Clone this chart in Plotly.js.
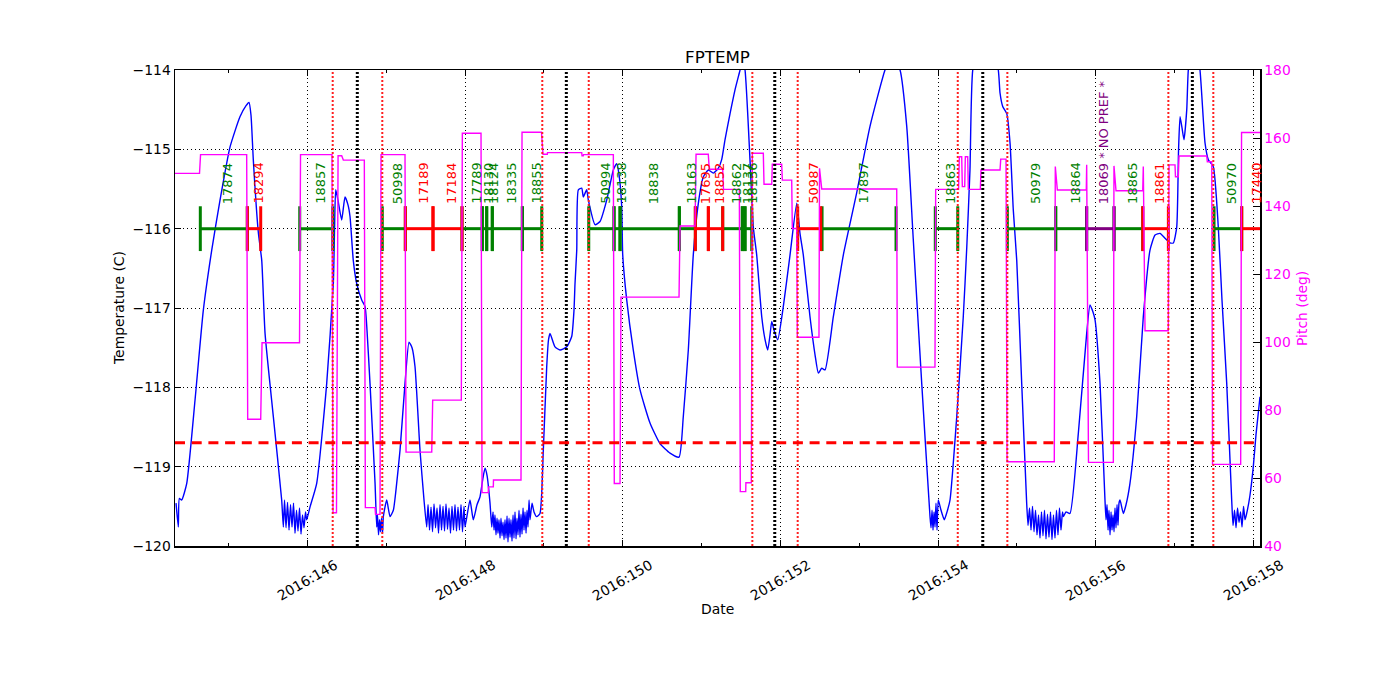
<!DOCTYPE html>
<html><head><meta charset="utf-8">
<script src="https://cdn.plot.ly/plotly-3.0.1.min.js"></script>
<style>html,body{margin:0;padding:0;background:#fff}#chart{width:1400px;height:700px}</style>
</head><body><div id="chart"></div>
<script>
// ---- data (day-of-year 2016, value) ----
const fptempReadings = [
[144.335,-119.46],[144.364,-119.76],[144.377,-119.40],[144.407,-119.42],[144.471,-119.21],[144.576,-118.16],[144.681,-117.03],[144.788,-116.27],[144.893,-115.64],[145.020,-114.97],[145.146,-114.59],[145.223,-114.45],[145.261,-114.41],[145.286,-114.57],[145.315,-115.13],[145.379,-116.05],[145.422,-116.40],[145.464,-117.32],[145.569,-118.37],[145.675,-119.42],[145.696,-119.76],
[145.711,-119.42],[145.730,-119.77],[145.749,-119.45],[145.768,-119.80],[145.787,-119.48],[145.806,-119.76],[145.825,-119.46],[145.844,-119.84],[145.863,-119.55],[145.882,-119.81],[145.901,-119.52],[145.920,-119.85],[145.939,-119.61],[145.958,-119.77],[145.977,-119.57],[145.992,-119.67],
[146.034,-119.51],[146.119,-119.21],[146.246,-117.95],[146.330,-116.69],[146.345,-116.02],[146.360,-115.51],[146.389,-115.64],[146.436,-115.89],[146.478,-115.60],[146.516,-115.70],[146.542,-115.85],[146.583,-116.40],[146.626,-116.69],[146.690,-116.90],[146.732,-116.98],[146.757,-117.28],[146.795,-117.95],[146.859,-119.21],[146.880,-119.76],
[146.890,-119.61],[146.903,-119.86],[146.916,-119.67],[146.928,-119.82],[146.941,-119.65],[146.954,-119.84],[146.964,-119.63],
[147.007,-119.42],[147.049,-119.63],[147.091,-119.55],[147.125,-119.29],[147.176,-118.79],[147.239,-117.95],[147.290,-117.43],[147.328,-117.50],[147.366,-117.74],[147.429,-118.79],[147.480,-119.42],[147.514,-119.76],
[147.531,-119.48],[147.550,-119.80],[147.569,-119.51],[147.588,-119.82],[147.607,-119.47],[147.626,-119.77],[147.645,-119.52],[147.664,-119.84],[147.683,-119.48],[147.702,-119.80],[147.721,-119.50],[147.740,-119.81],[147.759,-119.47],[147.778,-119.79],[147.797,-119.52],[147.816,-119.84],[147.835,-119.50],[147.854,-119.80],[147.873,-119.48],[147.892,-119.81],[147.911,-119.51],[147.930,-119.80],[147.949,-119.48],[147.968,-119.82],[147.987,-119.50],[148.000,-119.76],
[148.063,-119.42],[148.105,-119.67],[148.152,-119.48],[148.190,-119.38],[148.228,-119.14],[148.254,-119.02],[148.279,-119.11],[148.317,-119.46],[148.339,-119.76],
[148.355,-119.57],[148.368,-119.80],[148.380,-119.61],[148.393,-119.86],[148.406,-119.65],[148.418,-119.84],[148.431,-119.67],[148.444,-119.90],[148.456,-119.65],[148.469,-119.87],[148.482,-119.70],[148.495,-119.92],[148.507,-119.67],[148.520,-119.90],[148.533,-119.62],[148.545,-119.95],[148.558,-119.65],[148.571,-119.89],[148.583,-119.67],[148.596,-119.94],[148.609,-119.61],[148.621,-119.90],[148.634,-119.57],[148.647,-119.91],[148.659,-119.65],[148.672,-119.86],[148.685,-119.55],[148.697,-119.89],[148.710,-119.60],[148.723,-119.85],[148.736,-119.52],[148.748,-119.80],[148.761,-119.57],[148.774,-119.84],[148.786,-119.55],[148.799,-119.76],[148.812,-119.42],[148.824,-119.67],
[148.850,-119.46],[148.875,-119.57],[148.909,-119.63],[148.951,-119.59],[148.993,-118.79],[149.036,-117.74],[149.059,-117.40],[149.078,-117.32],[149.141,-117.49],[149.205,-117.53],[149.290,-117.49],[149.353,-117.36],[149.382,-117.03],[149.395,-116.69],[149.417,-116.27],[149.437,-115.51],[149.480,-115.49],[149.500,-115.60],[149.543,-115.51],[149.564,-115.64],[149.649,-115.95],[149.712,-115.91],[149.797,-115.64],[149.881,-115.26],[149.924,-115.18],[149.953,-115.32],[149.987,-115.72],[150.000,-116.33],[150.051,-116.90],[150.134,-117.53],[150.219,-118.03],[150.346,-118.45],[150.473,-118.71],[150.600,-118.83],[150.714,-118.88],[150.768,-118.37],[150.832,-117.53],[150.895,-116.33],[150.959,-115.68],[151.022,-115.35],[151.085,-115.26],[151.149,-115.30],[151.212,-115.24],[151.255,-115.13],[151.297,-114.88],[151.361,-114.55],[151.424,-114.25],[151.488,-114.00],[151.519,-113.87],[151.551,-114.00],[151.614,-115.13],[151.656,-115.98],[151.699,-116.33],[151.763,-117.11],[151.805,-117.40],[151.839,-117.53],[151.868,-117.34],[151.890,-117.17],[151.919,-117.28],[151.966,-117.40],[152.037,-116.98],[152.122,-116.33],[152.207,-115.68],[152.248,-116.06],[152.290,-116.33],[152.375,-117.11],[152.439,-117.59],[152.481,-117.82],[152.524,-117.76],[152.566,-117.78],[152.671,-117.11],[152.798,-116.33],[152.967,-115.55],[153.136,-114.71],[153.326,-114.00],[153.415,-113.80],[153.517,-114.00],[153.602,-114.71],[153.685,-116.14],[153.792,-117.95],[153.897,-119.63],
[153.910,-119.77],[153.923,-119.55],[153.935,-119.80],[153.948,-119.57],[153.961,-119.76],[153.973,-119.46],[153.986,-119.80],
[154.002,-119.42],[154.037,-119.55],[154.078,-119.67],[154.113,-119.57],[154.151,-119.42],[154.236,-118.37],[154.319,-117.11],[154.363,-116.24],[154.404,-115.26],[154.439,-114.00],[154.595,-113.30],[154.763,-114.00],[154.785,-114.29],[154.819,-114.46],[154.870,-114.55],[154.912,-114.92],[154.953,-115.76],[154.997,-116.40],[155.060,-117.95],[155.123,-119.46],
[155.140,-119.74],[155.159,-119.52],[155.178,-119.80],[155.197,-119.50],[155.216,-119.82],[155.235,-119.55],[155.254,-119.86],[155.273,-119.61],[155.292,-119.90],[155.311,-119.57],[155.330,-119.87],[155.349,-119.55],[155.368,-119.91],[155.387,-119.60],[155.406,-119.89],[155.425,-119.57],[155.444,-119.92],[155.463,-119.61],[155.482,-119.90],[155.501,-119.55],[155.520,-119.86],[155.539,-119.52],[155.558,-119.80],[155.577,-119.57],[155.588,-119.63],
[155.622,-119.57],[155.672,-119.59],[155.778,-118.58],[155.884,-117.32],[155.926,-116.96],[155.964,-117.05],[155.990,-117.15],[156.053,-117.95],[156.116,-119.42],
[156.129,-119.67],[156.142,-119.48],[156.155,-119.80],[156.167,-119.55],[156.180,-119.86],[156.193,-119.57],[156.205,-119.80],[156.218,-119.61],[156.231,-119.82],[156.243,-119.52],[156.256,-119.77],[156.269,-119.48],[156.281,-119.74],[156.294,-119.46],
[156.307,-119.42],[156.349,-119.59],[156.383,-119.48],[156.433,-119.21],[156.518,-118.37],[156.602,-117.11],[156.687,-116.27],[156.751,-116.08],[156.814,-116.06],[156.877,-116.12],[156.941,-116.18],[156.983,-116.18],[157.026,-115.98],[157.049,-115.01],[157.068,-114.59],[157.093,-114.73],[157.118,-114.88],[157.153,-114.50],[157.173,-114.00],[157.245,-113.50],[157.321,-114.00],[157.385,-114.92],[157.427,-115.13],[157.490,-115.22],[157.553,-115.98],[157.600,-116.90],[157.660,-117.95],[157.723,-119.42],
[157.740,-119.74],[157.759,-119.55],[157.778,-119.77],[157.797,-119.52],[157.816,-119.70],[157.835,-119.57],[157.854,-119.76],[157.873,-119.50],[157.892,-119.67],[157.913,-119.59],
[157.955,-119.36],[157.997,-119.00],[158.031,-118.60],[158.082,-118.12]
];

const pitchReadings = [
[144.322,149.6],[144.633,149.6],[144.646,155.1],[145.231,155.1],[145.244,77.3],[145.409,77.3],[145.426,99.8],[145.901,99.8],[145.914,155.1],[146.313,155.1],[146.326,49.8],[146.370,49.8],[146.390,154.8],[146.436,154.8],[146.457,153.5],[146.723,153.5],[146.736,51.3],[146.859,51.3],[146.865,49.3],[146.922,49.3],[146.935,155.1],[147.239,155.1],[147.252,67.6],[147.578,67.6],[147.590,82.9],[147.953,82.9],[147.966,161.4],[148.203,161.4],[148.216,55.7],[148.295,55.7],[148.297,57.4],[148.359,57.4],[148.361,59.4],[148.710,59.4],[148.723,161.7],[148.970,161.7],[148.989,155.2],[149.044,155.2],[149.046,155.7],[149.480,155.7],[149.484,154.8],[149.500,154.8],[149.503,155.1],[149.881,155.1],[149.893,58.4],[149.966,58.4],[149.978,113.2],[150.714,113.2],[150.727,134.1],[150.917,134.1],[150.930,155.2],[151.085,155.2],[151.098,150.8],[151.268,150.8],[151.278,144.9],[151.479,144.9],[151.491,56.0],[151.560,56.0],[151.562,58.6],[151.631,58.6],[151.644,155.5],[151.783,155.5],[151.792,146.4],[151.890,146.4],[151.897,152.3],[152.016,152.3],[152.024,147.6],[152.143,147.6],[152.151,133.4],[152.207,133.4],[152.214,101.4],[152.489,101.4],[152.496,151.1],[152.524,145.0],[153.475,145.0],[153.482,92.6],[153.960,92.6],[153.969,144.9],[154.259,144.9],[154.269,154.5],[154.299,154.5],[154.307,145.7],[154.337,145.7],[154.345,154.5],[154.375,154.5],[154.383,144.9],[154.535,144.9],[154.544,150.6],[154.785,150.6],[154.794,153.8],[154.861,153.8],[154.874,64.8],[155.473,64.8],[155.486,151.6],[155.512,144.7],[155.879,144.7],[155.884,152.1],[155.907,64.6],[156.222,64.6],[156.230,151.8],[156.256,144.5],[156.595,144.5],[156.602,151.6],[156.624,103.3],[156.919,103.3],[156.928,152.1],[157.004,152.1],[157.010,148.6],[157.046,148.6],[157.055,154.7],[157.406,154.7],[157.414,153.0],[157.470,153.0],[157.480,64.0],[157.837,64.0],[157.848,161.6],[158.082,161.6]
];

const obsIds   = ['17874','18294','18857','50998','17189','17184','17789','18130','18124','18335','18855','50994','18138','18838','18163','17695','18852','18862','18137','18136','50987','17897','18863','50979','18864','18069 * NO PREF *','18865','18861','50970','17440'];
const obsStart = [144.643,145.239,145.904,146.951,147.243,147.594,147.962,148.219,148.275,148.346,148.727,149.569,149.890,149.966,150.718,150.921,151.086,151.268,151.517,151.551,152.219,152.528,153.964,154.878,155.491,155.884,156.231,156.595,157.499,157.850];
const obsStop  = [145.239,145.409,146.322,147.243,147.594,147.962,148.219,148.275,148.346,148.727,148.973,149.890,149.966,150.718,150.921,151.086,151.268,151.517,151.551,151.636,152.511,153.466,154.249,155.491,155.884,156.231,156.595,156.920,157.850,158.120];
const obsKind  = ['cold','hot','cold','cold','hot','hot','cold','cold','cold','cold','cold','cold','cold','cold','cold','hot','hot','cold','cold','cold','hot','cold','cold','cold','cold','nopref','cold','hot','cold','hot'];

const radZoneEdges = [146.322,146.951,148.980,149.569,151.644,152.219,154.249,154.878,156.920,157.490];
const perigeeTimes = [146.634,149.285,151.928,154.566,157.224];
const planningLimit = -118.7;
const obsLevel = -116;

const majorDays = [146,148,150,152,154,156,158];
const majorLabels = ['2016:146','2016:148','2016:150','2016:152','2016:154','2016:156','2016:158'];
const minorDays = [145,147,149,151,153,155,157];
const tempTicks = [-120,-119,-118,-117,-116,-115,-114];
const tempTickText = ['\u2212120','\u2212119','\u2212118','\u2212117','\u2212116','\u2212115','\u2212114'];
const pitchTicks = [40,60,80,100,120,140,160,180];

// ---- style ----
const FONT = 'DejaVu Sans';
const kindColor = {cold:'#008000', hot:'#ff0000', nopref:'#800080'};
const MAGENTA = '#ff00ff';

const traces = [];
traces.push({x: fptempReadings.map(p=>p[0]), y: fptempReadings.map(p=>p[1]), mode:'lines',
  line:{color:'#0000ff', width:1.4, shape:'spline', smoothing:0.5}, yaxis:'y', hoverinfo:'skip'});
traces.push({x: pitchReadings.map(p=>p[0]), y: pitchReadings.map(p=>p[1]), mode:'lines',
  line:{color:MAGENTA, width:1.4}, yaxis:'y2', xaxis:'x', hoverinfo:'skip'});

['cold','hot','nopref'].forEach(k=>{
  const xs=[], ys=[];
  obsIds.forEach((id,i)=>{ if(obsKind[i]===k){ xs.push(obsStart[i],obsStop[i],null); ys.push(obsLevel,obsLevel,null);} });
  traces.push({x:xs, y:ys, mode:'lines+markers', yaxis:'y', hoverinfo:'skip',
    line:{color:kindColor[k], width:3},
    marker:{symbol:'line-ns', size:32, color:kindColor[k], line:{color:kindColor[k], width:3}}});
});

const shapes = [];
radZoneEdges.forEach(d=>shapes.push({type:'line', xref:'x', yref:'paper', x0:d, x1:d, y0:0, y1:1,
  line:{color:'#ff2020', width:2, dash:'2px,2px'}}));
perigeeTimes.forEach(d=>shapes.push({type:'line', xref:'x', yref:'paper', x0:d, x1:d, y0:0, y1:1,
  line:{color:'#000', width:3, dash:'2px,2px'}}));
shapes.push({type:'line', xref:'paper', yref:'y', x0:0, x1:1, y0:planningLimit, y1:planningLimit,
  line:{color:'#ff0000', width:3, dash:'10px,6.7px'}});

const annotations = [];
obsIds.forEach((id,i)=>annotations.push({x:(obsStart[i]+obsStop[i])/2, y:-115.714, xref:'x', yref:'y',
  text:id, textangle:-90, showarrow:false, xanchor:'center', yanchor:'bottom', xshift:4,
  font:{family:FONT, size:13, color:kindColor[obsKind[i]]}}));
majorDays.forEach((d,i)=>annotations.push({x:d, y:-0.0714, xref:'x', yref:'paper', text:majorLabels[i],
  textangle:-30, showarrow:false, xanchor:'center', yanchor:'middle', font:{family:FONT, size:13.9, color:'#000'}}));
annotations.push({x:0.5, y:-0.1324, xref:'paper', yref:'paper', text:'Date', showarrow:false,
  xanchor:'center', yanchor:'middle', font:{family:FONT, size:13.9, color:'#000'}});
annotations.push({x:-0.0516, y:0.5, xref:'paper', yref:'paper', text:'Temperature (C)', textangle:-90, showarrow:false,
  xanchor:'center', yanchor:'middle', font:{family:FONT, size:13.9, color:'#000'}});
annotations.push({x:1.0387, y:0.5, xref:'paper', yref:'paper', text:'Pitch (deg)', textangle:-90, showarrow:false,
  xanchor:'center', yanchor:'middle', font:{family:FONT, size:13.9, color:MAGENTA}});

const layout = {
  width:1400, height:700,
  margin:{l:175, r:140, t:70, b:154, pad:0},
  paper_bgcolor:'#fff', plot_bgcolor:'#fff', showlegend:false,
  font:{family:FONT, size:13.9, color:'#000'},
  title:{text:'FPTEMP', font:{family:FONT, size:16.7, color:'#000'}, x:0.5, xref:'paper', xanchor:'center',
    y:1-57/700, yref:'container', yanchor:'middle'},
  xaxis:{range:[144.322,158.082], tickmode:'array', tickvals:majorDays, showticklabels:false,
    ticks:'inside', ticklen:6, tickwidth:1, tickcolor:'#000',
    minor:{tickmode:'array', tickvals:minorDays, ticks:'inside', ticklen:3, tickcolor:'#000', showgrid:false},
    showgrid:true, gridcolor:'#000', gridwidth:1, griddash:'1px,3px',
    showline:true, linecolor:'#000', linewidth:1.5, mirror:'ticks', zeroline:false},
  yaxis:{range:[-120,-114], tickmode:'array', tickvals:tempTicks, ticktext:tempTickText,
    ticks:'inside', ticklen:6, tickwidth:1, tickcolor:'#000', tickfont:{family:FONT, size:13.9, color:'#000'},
    showgrid:true, gridcolor:'#000', gridwidth:1, griddash:'1px,3px',
    showline:true, linecolor:'#000', linewidth:1.5, zeroline:false},
  yaxis2:{range:[40,180], overlaying:'y', side:'right', tickmode:'array', tickvals:pitchTicks,
    ticks:'inside', ticklen:6, tickwidth:1, tickcolor:'#000', tickfont:{family:FONT, size:13.9, color:MAGENTA},
    showgrid:false, showline:true, linecolor:'#000', linewidth:1.5, zeroline:false},
  shapes:shapes, annotations:annotations
};

Plotly.newPlot('chart', traces, layout, {staticPlot:true, displayModeBar:false});
</script></body></html>
